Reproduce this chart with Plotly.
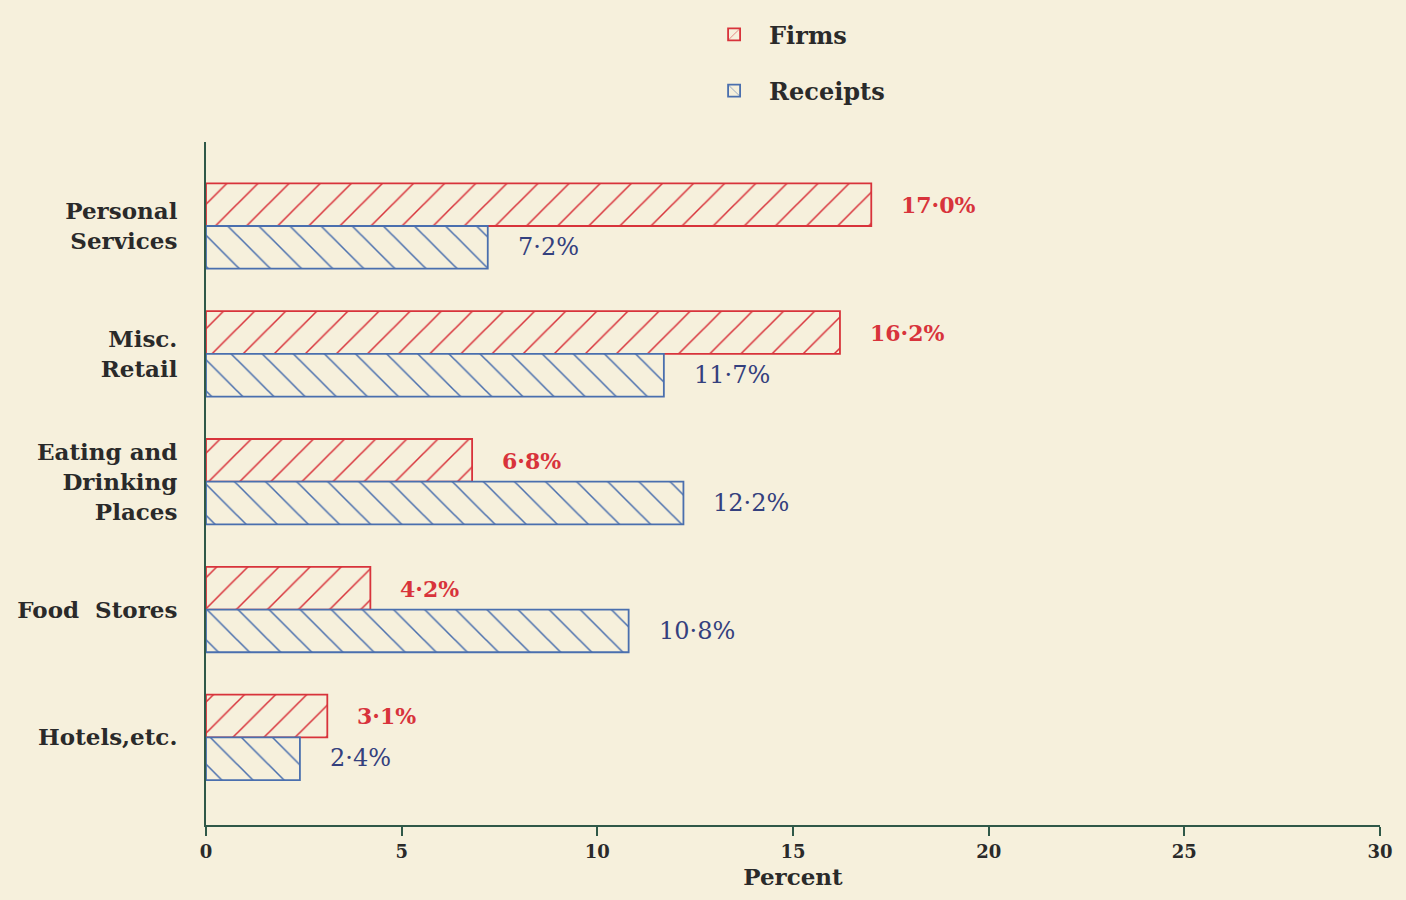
import plotly.graph_objects as go

categories = ["Personal<br>Services", "Misc.<br>Retail", "Eating and<br>Drinking<br>Places", "Food  Stores", "Hotels,etc."]
firms = [17.0, 16.2, 6.8, 4.2, 3.1]
receipts = [7.2, 11.7, 12.2, 10.8, 2.4]
x_ticks = [0, 5, 10, 15, 20, 25, 30]

BG = "#f6f0dc"
RED = "#d8333b"
BLUE_LINE = "#4a6fae"
BLUE_TEXT = "#34407e"
AXIS = "#2f5848"
TXT = "#2a2a2a"
FONT = "DejaVu Serif"

def fmt(v):
    return f"{v:.1f}%".replace(".", "\u00b7")

fig = go.Figure()
fig.add_trace(go.Bar(
    name="Firms", y=categories, x=firms, orientation="h",
    legendgroup="f",
    marker=dict(color=BG, line=dict(color=RED, width=1.8),
                pattern=dict(shape="/", fgcolor=RED, fgopacity=1, bgcolor=BG, size=22, solidity=0.07)),
))
fig.add_trace(go.Bar(
    name="Receipts", y=categories, x=receipts, orientation="h",
    legendgroup="r",
    marker=dict(color=BG, line=dict(color=BLUE_LINE, width=1.8),
                pattern=dict(shape="\\", fgcolor=BLUE_LINE, fgopacity=1, bgcolor=BG, size=22, solidity=0.07)),
))

annotations = []
for c, v in zip(categories, firms):
    annotations.append(dict(x=v, y=c, xref="x", yref="y", text=fmt(v), showarrow=False,
                            xanchor="left", xshift=28, yshift=21,
                            font=dict(family=FONT, size=22, color=RED, weight="bold")))
for c, v in zip(categories, receipts):
    annotations.append(dict(x=v, y=c, xref="x", yref="y", text=fmt(v), showarrow=False,
                            xanchor="left", xshift=28, yshift=-21,
                            font=dict(family=FONT, size=24, color=BLUE_TEXT)))

fig.update_layout(
    width=1406, height=900,
    paper_bgcolor=BG, plot_bgcolor=BG,
    margin=dict(l=206, r=26, t=138, b=75),
    barmode="group", bargap=0.332, bargroupgap=0,
    font=dict(family=FONT, color=TXT),
    annotations=annotations,
    showlegend=True,
    legend=dict(x=0.42, y=1.19, xanchor="left", yanchor="top",
                bgcolor="rgba(0,0,0,0)", traceorder="grouped", tracegroupgap=22,
                itemwidth=60,
                font=dict(family=FONT, size=24, color=TXT, weight="bold")),
    xaxis=dict(range=[0, 30], tickvals=x_ticks, ticktext=[str(t) for t in x_ticks],
               automargin=False,
               showgrid=False, zeroline=False, showline=True, linecolor=AXIS, linewidth=2,
               ticks="outside", ticklen=9, tickwidth=2, tickcolor=AXIS,
               tickfont=dict(family=FONT, size=18, color=TXT, weight="bold"),
               title=dict(text="Percent", standoff=8,
                          font=dict(family=FONT, size=23, color=TXT, weight="bold"))),
    yaxis=dict(type="category", range=[4.685, -0.657], showgrid=False, zeroline=False,
               automargin=False,
               showline=True, linecolor=AXIS, linewidth=2, ticks="",
               ticklabelstandoff=22,
               tickfont=dict(family=FONT, size=23, color=TXT, weight="bold")),
)
fig.write_html("out.html", config={"displayModeBar": False},
               post_script="document.body.style.margin='0';document.body.style.background='#f6f0dc';document.body.style.overflow='hidden';")
